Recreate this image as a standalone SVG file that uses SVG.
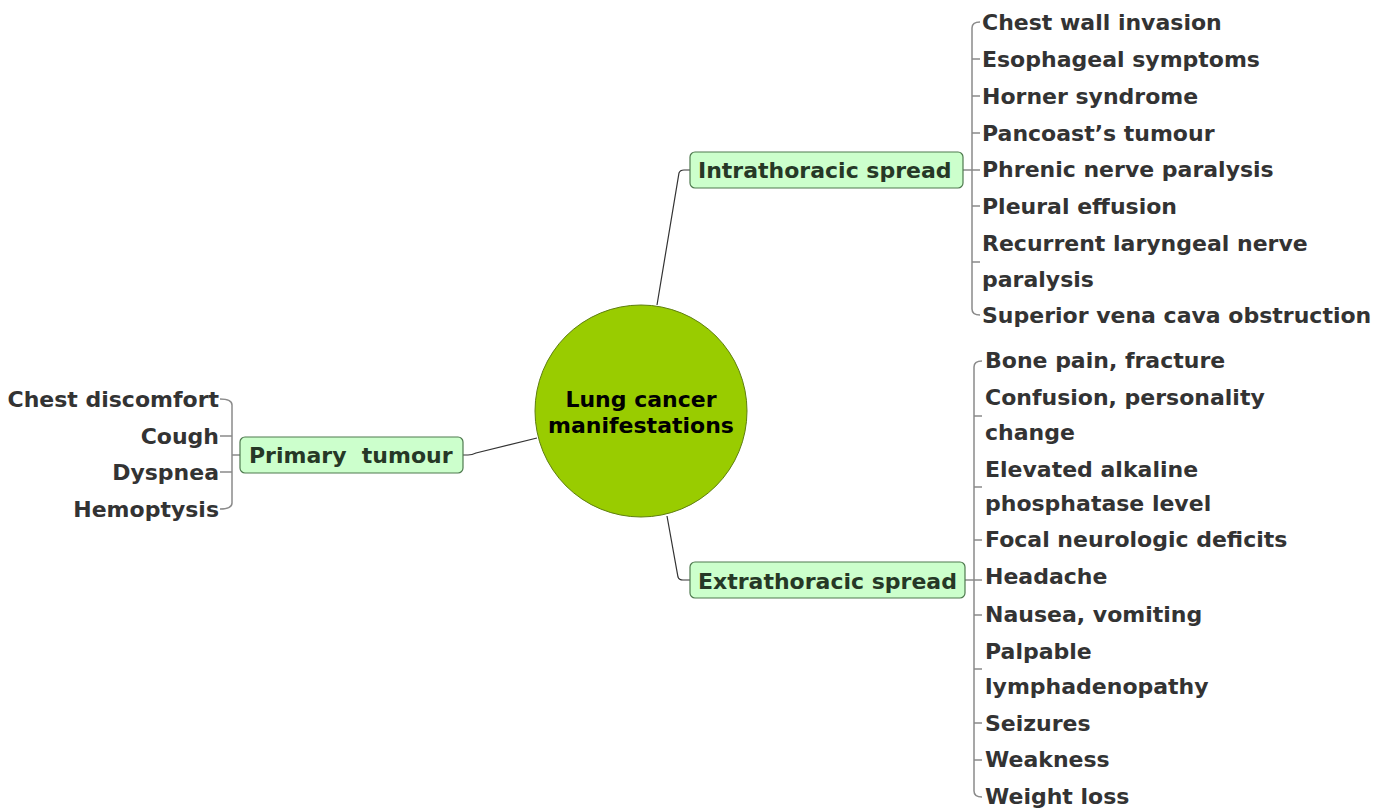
<svg xmlns="http://www.w3.org/2000/svg" width="1373" height="809" viewBox="0 0 1373 809">
<style>
.t{font-family:"DejaVu Sans",Verdana,sans-serif;font-weight:bold;font-size:22px;fill:#333333}
.n{font-family:"DejaVu Sans",Verdana,sans-serif;font-weight:bold;font-size:22px;fill:#263826}
.c{font-family:"DejaVu Sans",Verdana,sans-serif;font-weight:bold;font-size:22px;fill:#000000}
.box{fill:#ccffcc;stroke:#4f7a4f;stroke-width:1.2}
.br{fill:none;stroke:#8a8a8a;stroke-width:1.5}
.cn{fill:none;stroke:#333333;stroke-width:1.2}
</style>
<rect width="1373" height="809" fill="#ffffff"/>
<g id="connectors">
<path class="cn" d="M657,305 L679,173 Q680,170 684,170 L690,170"/>
<path class="cn" d="M667,516 L678,577 Q679,580 683,580 L690,580"/>
<path class="cn" d="M537,438 L476,453 Q472,455 468,455 L463,455"/>
<path class="br" d="M963,170 L980,170"/>
<path class="br" d="M980,22 Q972,22 972,28 L972,309 Q972,315 980,315 M972,59 L980,59 M972,96 L980,96 M972,133 L980,133 M972,206 L980,206 M972,262 L980,262"/>
<path class="br" d="M965,580 L982,580"/>
<path class="br" d="M982,361 Q974,361 974,367 L974,791 Q974,797 982,797 M974,416 L982,416 M974,487 L982,487 M974,540 L982,540 M974,615 L982,615 M974,669 L982,669 M974,723 L982,723 M974,760 L982,760"/>
<path class="br" d="M240,455 L232,455"/>
<path class="br" d="M220,399 Q232,399 232,405 L232,503 Q232,509 220,509 M220,436 L232,436 M220,472 L232,472"/>
</g>
<g id="center">
<circle cx="641" cy="411" r="106" fill="#99cc00" stroke="#5f7f10" stroke-width="1"/>
<text class="c" x="641" y="407" text-anchor="middle">Lung cancer</text>
<text class="c" x="641" y="433" text-anchor="middle">manifestations</text>
</g>
<g id="intrathoracic">
<rect class="box" x="690" y="152" width="273" height="36" rx="5"/>
<text class="n" x="698" y="178">Intrathoracic spread</text>
</g>
<g id="extrathoracic">
<rect class="box" x="690" y="562" width="275" height="36" rx="5"/>
<text class="n" x="698" y="589">Extrathoracic spread</text>
</g>
<g id="primary">
<rect class="box" x="240" y="437" width="223" height="36" rx="5"/>
<text class="n" x="249" y="463" xml:space="preserve">Primary  tumour</text>
</g>
<g id="intra-items">
<text class="t" x="982" y="30">Chest wall invasion</text>
<text class="t" x="982" y="67">Esophageal symptoms</text>
<text class="t" x="982" y="104">Horner syndrome</text>
<text class="t" x="982" y="141">Pancoast’s tumour</text>
<text class="t" x="982" y="177">Phrenic nerve paralysis</text>
<text class="t" x="982" y="214">Pleural effusion</text>
<text class="t" x="982" y="251">Recurrent laryngeal nerve</text>
<text class="t" x="982" y="287">paralysis</text>
<text class="t" x="982" y="323">Superior vena cava obstruction</text>
</g>
<g id="extra-items">
<text class="t" x="985" y="368">Bone pain, fracture</text>
<text class="t" x="985" y="405">Confusion, personality</text>
<text class="t" x="985" y="440">change</text>
<text class="t" x="985" y="477">Elevated alkaline</text>
<text class="t" x="985" y="511">phosphatase level</text>
<text class="t" x="985" y="547">Focal neurologic deficits</text>
<text class="t" x="985" y="584">Headache</text>
<text class="t" x="985" y="622">Nausea, vomiting</text>
<text class="t" x="985" y="659">Palpable</text>
<text class="t" x="985" y="694">lymphadenopathy</text>
<text class="t" x="985" y="731">Seizures</text>
<text class="t" x="985" y="767">Weakness</text>
<text class="t" x="985" y="804">Weight loss</text>
</g>
<g id="primary-items">
<text class="t" x="219" y="407" text-anchor="end">Chest discomfort</text>
<text class="t" x="219" y="444" text-anchor="end">Cough</text>
<text class="t" x="219" y="480" text-anchor="end">Dyspnea</text>
<text class="t" x="219" y="517" text-anchor="end">Hemoptysis</text>
</g>
</svg>
